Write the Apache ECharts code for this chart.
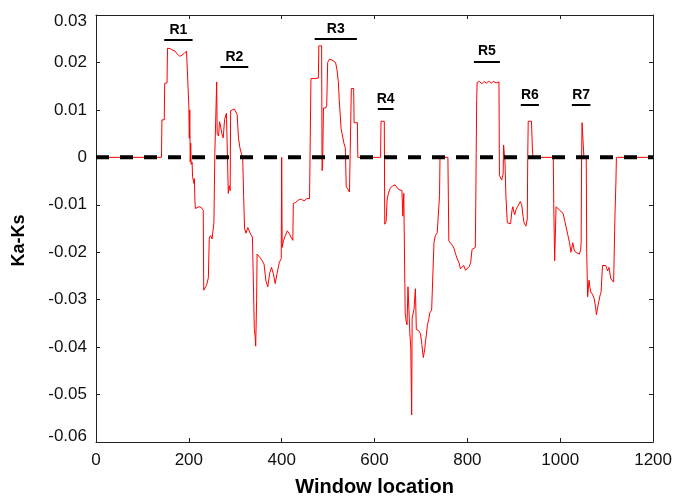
<!DOCTYPE html>
<html>
<head>
<meta charset="utf-8">
<script src="https://cdn.jsdelivr.net/npm/echarts@6/dist/echarts.min.js"></script>
<style>
html,body{margin:0;padding:0;background:#fff;}
#chart{width:675px;height:502px;}
</style>
</head>
<body>
<div id="chart"></div>
<script>
// Window location (x) and Ka-Ks value (y)
var windowPos = [1,141,142,147,148,153,154,160,165,170,175,180,185,190,195,197,199,200,201,202,203,204,205,207,208,211,212,213,214,218,222,227,231,232,235,238,242,243,244,247,250,253,254,255,256,259,260,261,264,266,268,271,274,277,281,284,285,287,289,290,294,298,302,304,307,310,314,316,318,320,323,327,330,333,337,340,341,343,344,346,347,350,354,358,362,366,370,374,378,382,386,390,395,399,400,401,404,408,412,416,420,424,425,430,436,442,448,454,460,462,463,470,479,480,484,486,487,488,490,495,497,499,503,508,512,516,519,522,524,526,528,530,534,537,539,543,546,549,550,555,556,563,564,613,614,621,622,625,627,630,634,639,644,648,652,656,659,661,663,665,666,668,670,672,674,676,678,680,681,685,688,690,695,699,702,705,708,710,714,717,719,723,727,728,731,735,739,740,741,758,759,760,764,768,771,775,778,782,785,788,792,796,800,804,807,810,814,817,818,819,820,821,826,831,836,841,846,851,856,862,868,869,872,874,877,878,880,881,883,886,890,893,896,898,900,902,905,908,911,914,917,920,922,926,929,930,931,938,940,941,985,986,988,990,991,995,999,1002,1006,1010,1016,1020,1023,1027,1030,1033,1037,1041,1044,1045,1046,1047,1049,1051,1056,1057,1059,1062,1064,1066,1070,1073,1076,1078,1080,1083,1086,1088,1091,1095,1098,1102,1105,1109,1112,1115,1117,1118,1120,1121,1195];
var kaks = [0,0,0.0079,0.0079,0.0156,0.0157,0.0230,0.0229,0.0226,0.0224,0.0218,0.0213,0.0215,0.0219,0.0224,0.0222,0.0225,0.0108,0.0040,0.0100,-0.0010,0.0030,-0.0015,-0.0010,-0.0041,-0.0055,-0.0045,-0.0090,-0.0108,-0.0110,-0.0104,-0.0106,-0.0112,-0.0280,-0.0283,-0.0270,-0.0254,-0.0252,-0.0170,-0.0165,-0.0172,-0.0172,-0.0138,-0.0138,0.0010,0.0010,0.0159,0.0050,0.0045,0.0075,0.0068,0.0050,0.0041,0.0080,0.0093,0.0090,-0.0076,-0.0060,-0.0070,0.0098,0.0100,0.0102,0.0104,0.0090,0.0040,0.0020,0.0005,0.0000,-0.0080,-0.0150,-0.0160,-0.0148,-0.0155,-0.0162,-0.0168,-0.0170,-0.0360,-0.0380,-0.0398,-0.0300,-0.0204,-0.0208,-0.0212,-0.0218,-0.0225,-0.0260,-0.0273,-0.0245,-0.0232,-0.0245,-0.0266,-0.0245,-0.0221,-0.0214,0.0000,-0.0190,-0.0175,-0.0165,-0.0155,-0.0160,-0.0168,-0.0175,-0.0097,-0.0095,-0.0090,-0.0088,-0.0092,-0.0087,-0.0087,-0.0087,0.0166,0.0166,0.0167,0.0235,0.0237,0.0235,-0.0028,-0.0020,0.0104,0.0104,0.0110,0.0200,0.0207,0.0205,0.0207,0.0200,0.0185,0.0160,0.0120,0.0090,0.0060,0.0050,0.0030,0.0020,-0.0062,-0.0068,-0.0073,-0.0070,0.0145,0.0145,0.0073,0.0073,0.0000,0.0000,0.0076,0.0076,-0.0141,-0.0135,-0.0090,-0.0075,-0.0065,-0.0060,-0.0058,-0.0062,-0.0068,-0.0066,-0.0070,-0.0124,-0.0076,-0.0080,-0.0328,-0.0345,-0.0353,-0.0273,-0.0320,-0.0370,-0.0400,-0.0543,-0.0339,-0.0320,-0.0277,-0.0363,-0.0365,-0.0372,-0.0395,-0.0422,-0.0405,-0.0387,-0.0353,-0.0340,-0.0328,-0.0322,-0.0318,-0.0180,-0.0165,-0.0159,-0.0159,-0.0080,0.0000,0.0000,-0.0087,-0.0176,-0.0180,-0.0186,-0.0192,-0.0205,-0.0214,-0.0222,-0.0235,-0.0233,-0.0228,-0.0238,-0.0235,-0.0230,-0.0222,-0.0194,-0.0192,-0.0190,-0.0100,0.0010,0.0120,0.0158,0.0160,0.0155,0.0160,0.0156,0.0161,0.0156,0.0160,0.0157,0.0159,-0.0038,-0.0040,-0.0048,-0.0035,0.0026,0.0026,-0.0010,-0.0083,-0.0138,-0.0135,-0.0140,-0.0112,-0.0104,-0.0115,-0.0121,-0.0110,-0.0104,-0.0100,-0.0093,-0.0100,-0.0125,-0.0138,-0.0145,-0.0130,0.0000,0.0076,0.0076,0.0020,0.0000,0.0000,-0.0100,-0.0218,-0.0218,-0.0104,-0.0108,-0.0112,-0.0114,-0.0118,-0.0135,-0.0162,-0.0180,-0.0200,-0.0180,-0.0195,-0.0200,-0.0202,-0.0204,-0.0195,-0.0180,0.0000,0.0073,0.0073,0.0000,0.0000,-0.0200,-0.0294,-0.0259,-0.0275,-0.0284,-0.0290,-0.0297,-0.0315,-0.0332,-0.0320,-0.0304,-0.0290,-0.0284,-0.0228,-0.0230,-0.0228,-0.0239,-0.0232,-0.0256,-0.0258,-0.0263,-0.0260,-0.0118,-0.0050,0.0000,0.0000];

// Region annotations
var regionNames = ['R1','R2','R3','R4','R5','R6','R7'];
var regionStart = [147, 268, 471, 607, 814, 915, 1025];
var regionEnd   = [208, 328, 562, 641, 870, 954, 1065];
var regionLevel = [0.0247, 0.0191, 0.0250, 0.0102, 0.0202, 0.0111, 0.0111];

// Axis ticks
var xTicks = {min: 0, max: 1200, step: 200};
var yTicks = {min: -0.06, max: 0.03, step: 0.01};

var FONT = 'Liberation Sans, Arial, sans-serif';

var lineData = windowPos.map(function (x, i) { return [x, kaks[i]]; });
var regionMarks = regionNames.map(function (n, i) {
  return [{name: n, coord: [regionStart[i], regionLevel[i]]}, {coord: [regionEnd[i], regionLevel[i]]}];
});

var chart = echarts.init(document.getElementById('chart'), null, {renderer: 'canvas'});
var axisCommon = {
  axisLine: {show: true, onZero: false, lineStyle: {color: '#222', width: 1}},
  axisTick: {show: true, inside: true, length: 4, lineStyle: {color: '#222'}},
  splitLine: {show: false}
};
var lblStyle = {fontFamily: FONT, fontSize: 17, color: '#111'};
chart.setOption({
  animation: false,
  backgroundColor: '#fff',
  grid: {left: 96, right: 17, top: 15, bottom: 53, containLabel: false},
  xAxis: [
    Object.assign({
      type: 'value', position: 'bottom', min: xTicks.min, max: xTicks.max, interval: xTicks.step,
      name: 'Window location', nameLocation: 'middle', nameGap: 35,
      nameTextStyle: {fontFamily: FONT, fontWeight: 'bold', fontSize: 20, color: '#000'},
      axisLabel: {fontFamily: FONT, fontSize: 17, color: '#111', margin: 10,
        formatter: function (v) { return String(v); }}
    }, axisCommon),
    Object.assign({
      type: 'value', position: 'top', min: xTicks.min, max: xTicks.max, interval: xTicks.step,
      axisLabel: {show: false}
    }, axisCommon)
  ],
  yAxis: [
    Object.assign({
      type: 'value', position: 'left', min: yTicks.min, max: yTicks.max, interval: yTicks.step,
      name: 'Ka-Ks', nameLocation: 'middle', nameGap: 68,
      nameTextStyle: {fontFamily: FONT, fontWeight: 'bold', fontSize: 18, color: '#000', padding: [0, 24, 0, 0]},
      axisLabel: {fontFamily: FONT, fontSize: 17, color: '#111', margin: 9,
        formatter: function (v) {
          var s = Math.abs(v) < 1e-9 ? '0' : (+v.toFixed(2)).toString();
          if (Math.abs(v - yTicks.max) < 1e-9) return '{hi|' + s + '}';
          if (Math.abs(v - yTicks.min) < 1e-9) return '{lo|' + s + '}';
          return s;
        },
        rich: {
          hi: Object.assign({padding: [12, 0, 0, 0]}, lblStyle),
          lo: Object.assign({padding: [0, 0, 12, 0]}, lblStyle)
        }}
    }, axisCommon),
    Object.assign({
      type: 'value', position: 'right', min: yTicks.min, max: yTicks.max, interval: yTicks.step,
      axisLabel: {show: false}
    }, axisCommon)
  ],
  series: [
    {
      type: 'line', data: lineData, showSymbol: false, symbol: 'none',
      lineStyle: {color: '#ff0000', width: 1}, silent: true, z: 2
    },
    {
      type: 'line', data: [[0, 0], [1200, 0]], showSymbol: false, symbol: 'none',
      lineStyle: {color: '#000', width: 4, type: [13, 11]}, silent: true, z: 3,
      markLine: {
        silent: true, symbol: 'none', animation: false,
        lineStyle: {color: '#000', width: 2, type: 'solid'},
        label: {show: true, position: 'middle', formatter: '{b}', distance: 3,
          fontFamily: FONT, fontWeight: 'bold', fontSize: 14, color: '#000'},
        emphasis: {disabled: true},
        data: regionMarks
      }
    }
  ]
});
</script>
</body>
</html>
